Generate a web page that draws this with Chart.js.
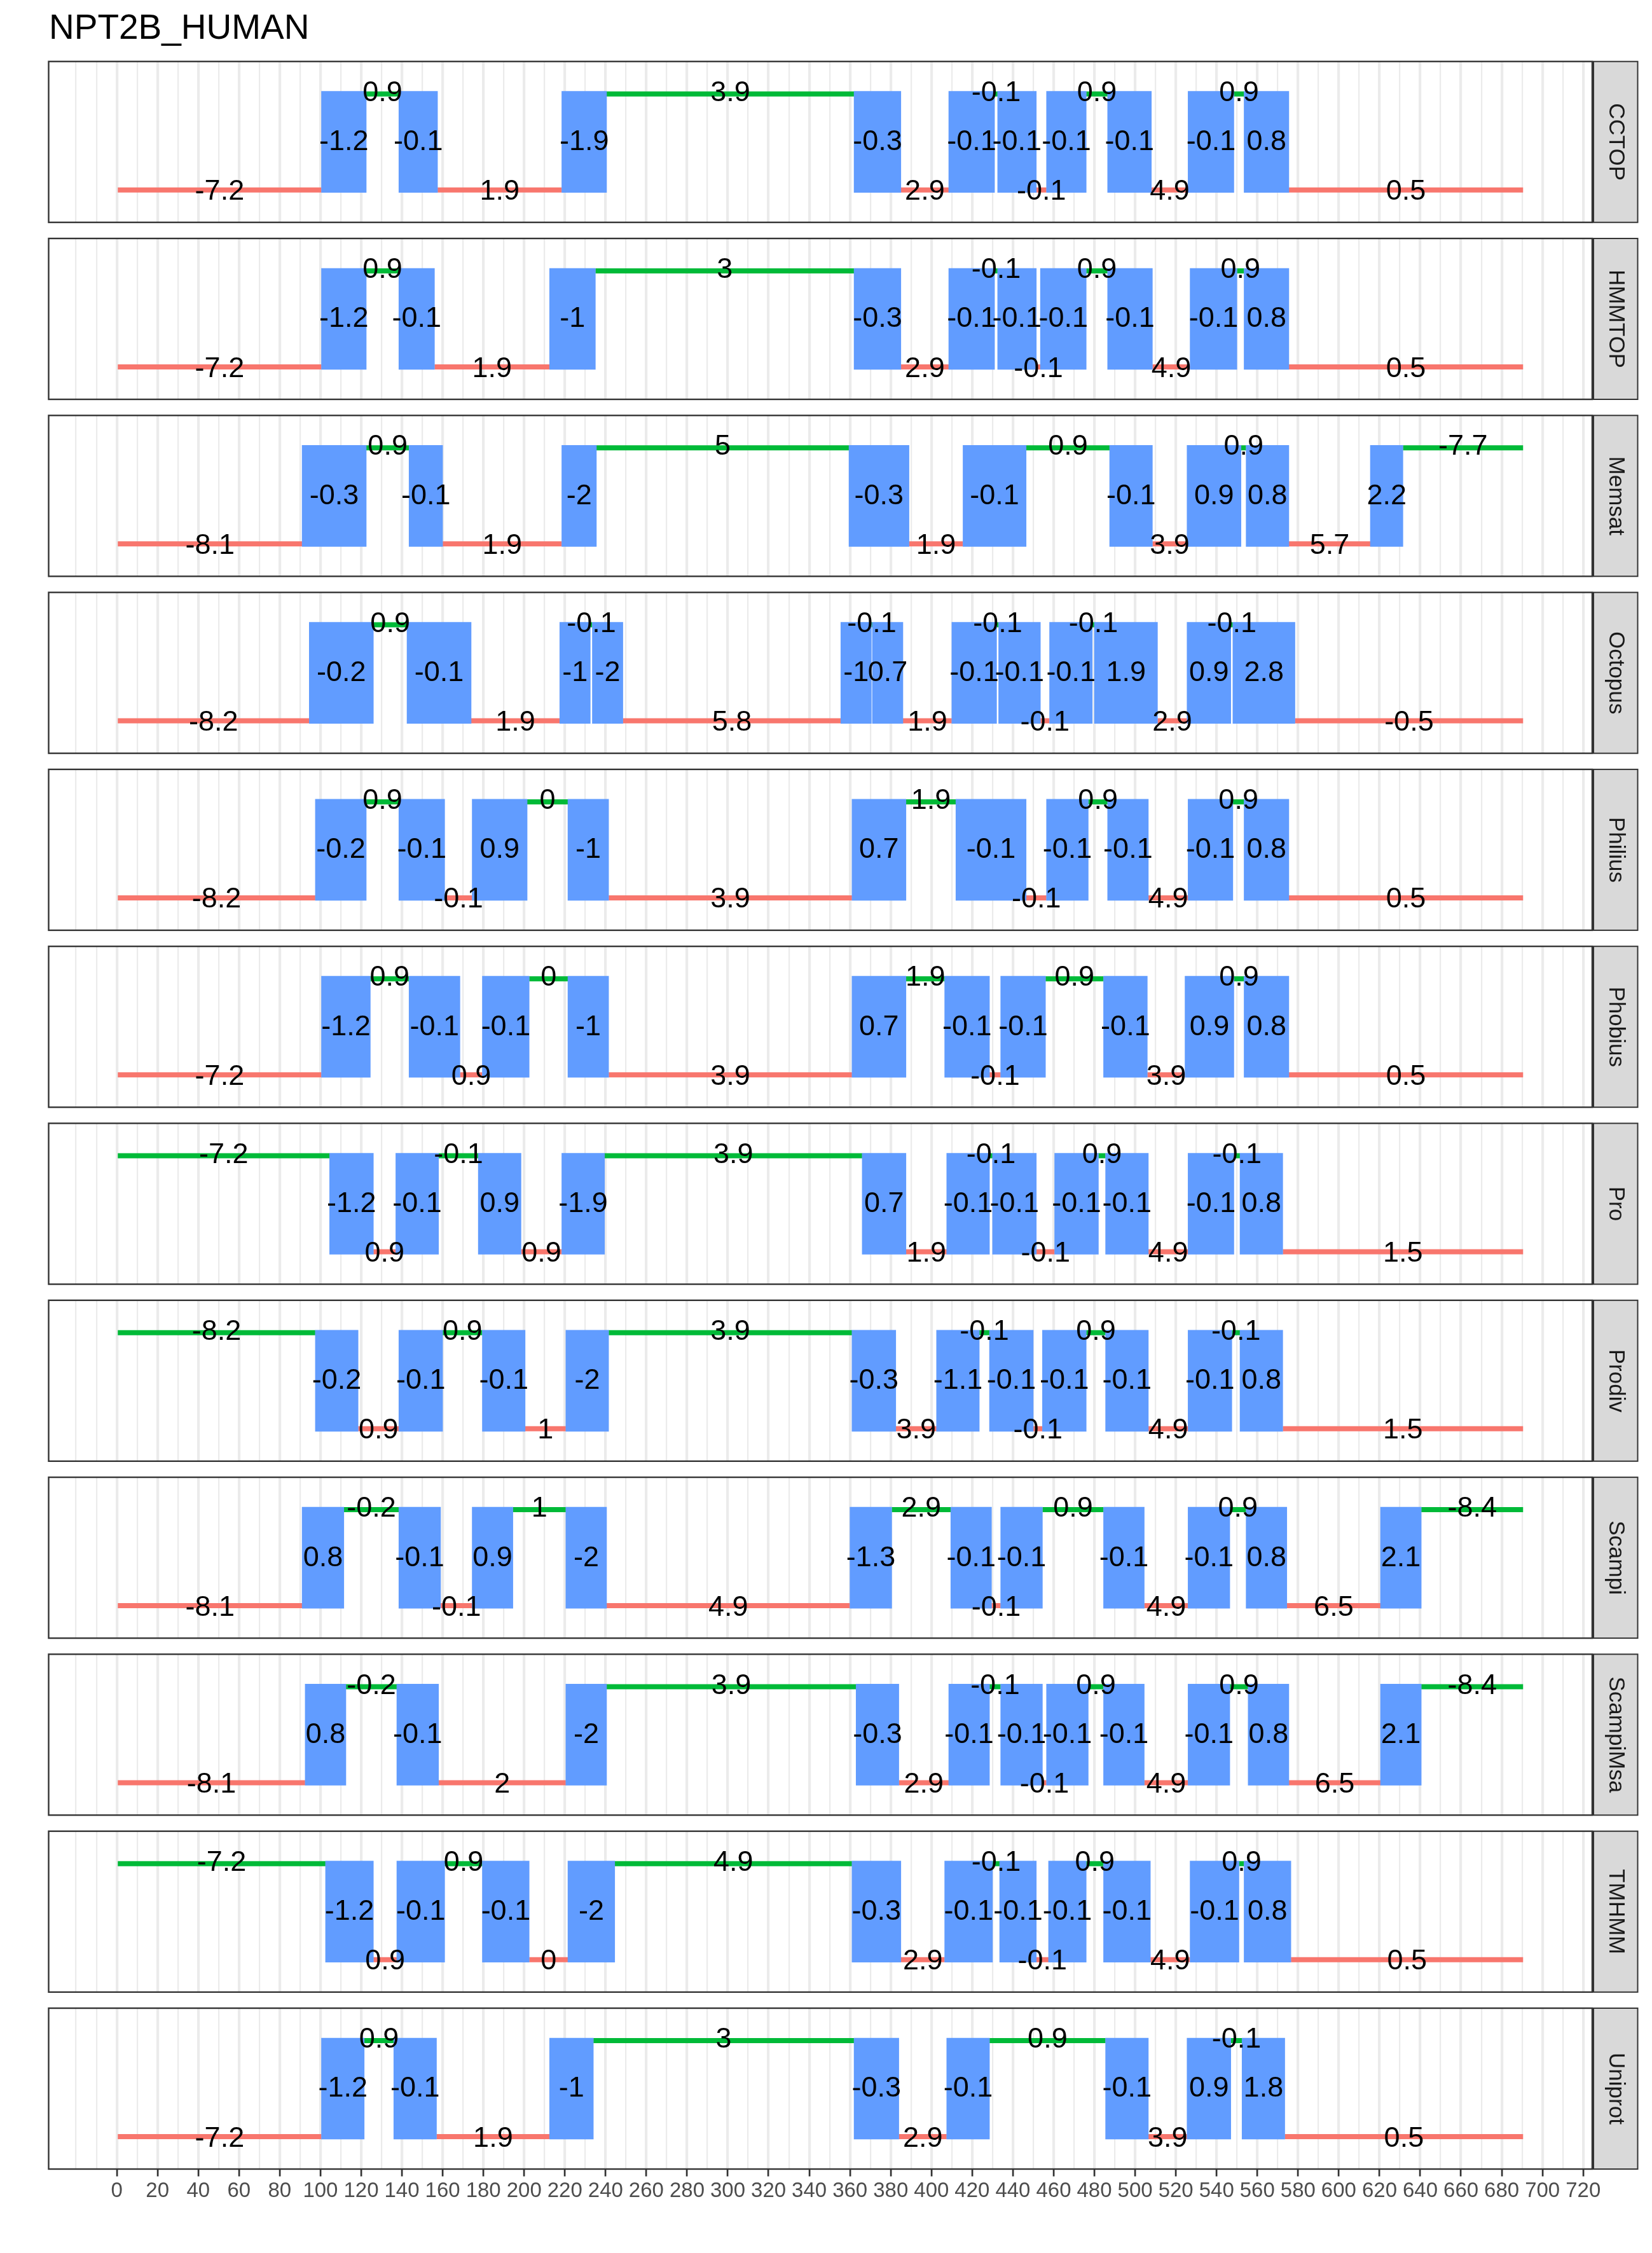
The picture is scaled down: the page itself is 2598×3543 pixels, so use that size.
<!DOCTYPE html>
<html>
<head>
<meta charset="utf-8">
<script src="https://cdn.jsdelivr.net/npm/chart.js@4/dist/chart.umd.min.js"></script>
<style>
html,body{margin:0;padding:0;background:#ffffff;}
body{width:2598px;height:3543px;position:relative;overflow:hidden;font-family:"Liberation Sans",Arial,sans-serif;}
#title{position:absolute;left:77px;top:15px;font-size:55px;line-height:55px;color:#000;white-space:nowrap;}
canvas{position:absolute;left:0;}
</style>
</head>
<body>
<div id="title">NPT2B_HUMAN</div>
<script>
// ---------- data (segment edges, topology i=inside o=outside M=membrane, score labels) ----------
const methods = ["CCTOP","HMMTOP","Memsat","Octopus","Philius","Phobius","Pro","Prodiv","Scampi","ScampiMsa","TMHMM","Uniprot"];

const cctopEdges = [0.5,100.5,122.5,138.5,157.5,218.5,240.5,362,385,408.5,431,432.5,451.5,456.5,476,486.5,508,526,548.5,553.5,575.5,690.5];
const cctopTopo  = "iMoMiMoMiMoMiMoMiMoMi";
const cctopScore = [-7.2,-1.2,0.9,-0.1,1.9,-1.9,3.9,-0.3,2.9,-0.1,-0.1,-0.1,-0.1,-0.1,0.9,-0.1,4.9,-0.1,0.9,0.8,0.5];

const hmmtopEdges = [0.5,100.5,122.5,138.5,156,212.5,235,362,385,408.5,431,432.5,451.5,453.5,476,486.5,508.5,527,550,553.5,575.5,690.5];
const hmmtopTopo  = "iMoMiMoMiMoMiMoMiMoMi";
const hmmtopScore = [-7.2,-1.2,0.9,-0.1,1.9,-1,3,-0.3,2.9,-0.1,-0.1,-0.1,-0.1,-0.1,0.9,-0.1,4.9,-0.1,0.9,0.8,0.5];

const memsatEdges = [0.5,91,122.5,143.5,160,218.5,235.5,359.5,389,415.5,446.5,487.5,508.5,525.5,552,554.5,575.5,615.5,631.5,690.5];
const memsatTopo  = "iMoMiMoMiMoMiMoMiMo";
const memsatScore = [-8.1,-0.3,0.9,-0.1,1.9,-2,5,-0.3,1.9,-0.1,0.9,-0.1,3.9,0.9,0.9,0.8,5.7,2.2,-7.7];

const octopusEdges = [0.5,94.5,126,142.5,174,217.5,232.5,233.5,248.5,355.5,370.5,371,386,410,432,433,453.5,458,479,480,511,525.5,547,548,578.5,690.5];
const octopusTopo  = "iMoMiMoMiMoMiMoMiMoMiMoMi";
const octopusScore = [-8.2,-0.2,0.9,-0.1,1.9,-1,-0.1,-2,5.8,-1,-0.1,0.7,1.9,-0.1,-0.1,-0.1,-0.1,-0.1,-0.1,1.9,2.9,0.9,-0.1,2.8,-0.5];

const philiusEdges = [0.5,97.5,122.5,138.5,161,174.5,201.5,221.5,241.5,361,387.5,412,446.5,456.5,477,486.5,506.5,526,548,553.5,575.5,690.5];
const philiusTopo  = "iMoMiMoMiMoMiMoMiMoMi";
const philiusScore = [-8.2,-0.2,0.9,-0.1,-0.1,0.9,0,-1,3.9,0.7,1.9,-0.1,-0.1,-0.1,0.9,-0.1,4.9,-0.1,0.9,0.8,0.5];

const phobiusEdges = [0.5,100.5,124.5,143.5,168.5,179.5,202.5,221.5,241.5,361,387.5,406.5,428.5,434,456,484.5,506,524.5,548.5,553.5,575.5,690.5];
const phobiusTopo  = "iMoMiMoMiMoMiMoMiMoMi";
const phobiusScore = [-7.2,-1.2,0.9,-0.1,0.9,-0.1,0,-1,3.9,0.7,1.9,-0.1,-0.1,-0.1,0.9,-0.1,3.9,0.9,0.9,0.8,0.5];

const proEdges = [0.5,104.5,126,137,158,177.5,198.5,218.5,239.5,366,387.5,407.5,428.5,430,451.5,460.5,482,485.5,506.5,526,548.5,551.5,572.5,690.5];
const proTopo  = "oMiMoMiMoMiMoMiMoMiMoMi";
const proScore = [-7.2,-1.2,0.9,-0.1,-0.1,0.9,0.9,-1.9,3.9,0.7,1.9,-0.1,-0.1,-0.1,-0.1,-0.1,0.9,-0.1,4.9,-0.1,-0.1,0.8,1.5];

const prodivEdges = [0.5,97.5,118.5,138.5,160,179.5,200.5,220.5,241.5,361,382.5,402.5,423.5,428.5,450,454.5,476,485.5,506.5,526,547.5,551.5,572.5,690.5];
const prodivTopo  = "oMiMoMiMoMiMoMiMoMiMoMi";
const prodivScore = [-8.2,-0.2,0.9,-0.1,0.9,-0.1,1,-2,3.9,-0.3,3.9,-1.1,-0.1,-0.1,-0.1,-0.1,0.9,-0.1,4.9,-0.1,-0.1,0.8,1.5];

const scampiEdges = [0.5,91,111.5,138.5,159,174.5,194.5,220.5,240.5,360,380.5,409.5,429.5,434,454.5,484.5,504.5,526,546.5,554.5,574.5,620.5,640.5,690.5];
const scampiTopo  = "iMoMiMoMiMoMiMoMiMoMiMo";
const scampiScore = [-8.1,0.8,-0.2,-0.1,-0.1,0.9,1,-2,4.9,-1.3,2.9,-0.1,-0.1,-0.1,0.9,-0.1,4.9,-0.1,0.9,0.8,6.5,2.1,-8.4];

const scampiMsaEdges = [0.5,92.5,112.5,137.5,158,220.5,240.5,363,384,408.5,428.5,434,454.5,456.5,477,484.5,504.5,526,546.5,555.5,575.5,620.5,640.5,690.5];
const scampiMsaTopo  = "iMoMiMoMiMoMiMoMiMoMiMo";
const scampiMsaScore = [-8.1,0.8,-0.2,-0.1,2,-2,3.9,-0.3,2.9,-0.1,-0.1,-0.1,-0.1,-0.1,0.9,-0.1,4.9,-0.1,0.9,0.8,6.5,2.1,-8.4];

const tmhmmEdges = [0.5,102.5,126,137.5,161,179.5,202.5,221.5,244.5,361,385,406.5,430,433.5,451.5,457.5,476,484.5,507.5,527,551,553.5,576.5,690.5];
const tmhmmTopo  = "oMiMoMiMoMiMoMiMoMiMoMi";
const tmhmmScore = [-7.2,-1.2,0.9,-0.1,0.9,-0.1,0,-2,4.9,-0.3,2.9,-0.1,-0.1,-0.1,-0.1,-0.1,0.9,-0.1,4.9,-0.1,0.9,0.8,0.5];

const uniprotEdges = [0.5,100.5,121.5,136,157,212.5,234,362,384,407.5,428.5,485.5,506.5,525.5,547,552.5,573.5,690.5];
const uniprotTopo  = "iMoMiMoMiMoMiMoMi";
const uniprotScore = [-7.2,-1.2,0.9,-0.1,1.9,-1,3,-0.3,2.9,-0.1,0.9,-0.1,3.9,0.9,-0.1,1.8,0.5];

const xBreaks = [0,20,40,60,80,100,120,140,160,180,200,220,240,260,280,300,320,340,360,380,400,420,440,460,480,500,520,540,560,580,600,620,640,660,680,700,720];

const panels = [
  [methods[0], cctopEdges, cctopTopo, cctopScore],
  [methods[1], hmmtopEdges, hmmtopTopo, hmmtopScore],
  [methods[2], memsatEdges, memsatTopo, memsatScore],
  [methods[3], octopusEdges, octopusTopo, octopusScore],
  [methods[4], philiusEdges, philiusTopo, philiusScore],
  [methods[5], phobiusEdges, phobiusTopo, phobiusScore],
  [methods[6], proEdges, proTopo, proScore],
  [methods[7], prodivEdges, prodivTopo, prodivScore],
  [methods[8], scampiEdges, scampiTopo, scampiScore],
  [methods[9], scampiMsaEdges, scampiMsaTopo, scampiMsaScore],
  [methods[10], tmhmmEdges, tmhmmTopo, tmhmmScore],
  [methods[11], uniprotEdges, uniprotTopo, uniprotScore]
];

// ---------- styling ----------
const FONT = '"Liberation Sans", Arial, sans-serif';
Chart.defaults.font.family = FONT;
const LEVEL = {i: 0, M: 1, o: 2};
const LABEL_LEVEL = {i: -0.042, M: 0.993, o: 2.016};
const COL = {i: '#F8766D', o: '#00BA38', M: '#619CFF'};
const X_MIN = -33.45, X_MAX = 724.45, Y_MIN = -0.6755, Y_MAX = 2.6755;
const TOP0 = 96.7, PITCH = 278.3, PANEL_H = 253;
const AREA_LEFT = 76.5, AREA_RIGHT = 2504, PAGE_W = 2598;
const AXIS_H = 90, PAD = 12;

const isMajor = v => v >= 0 && v <= 720 && xBreaks.includes(v);

const labelPlugin = {
  id: 'segLabels',
  afterDatasetsDraw(chart) {
    const ctx = chart.ctx;
    chart.data.datasets.forEach((ds, di) => {
      if (!ds.texts) return;
      const meta = chart.getDatasetMeta(di);
      ctx.save();
      ctx.font = '45px ' + FONT;
      ctx.fillStyle = '#000000';
      ctx.textAlign = 'center';
      ctx.textBaseline = 'middle';
      meta.data.forEach((pt, k) => ctx.fillText(ds.texts[k], pt.x, pt.y));
      ctx.restore();
    });
  }
};

const facetPlugin = {
  id: 'facet',
  afterDraw(chart, args, opts) {
    const ctx = chart.ctx, a = chart.chartArea;
    const h = a.bottom - a.top;
    ctx.save();
    const sx = a.right + 2, sw = 69.5;
    ctx.fillStyle = '#D9D9D9';
    ctx.fillRect(sx, a.top, sw, h);
    ctx.strokeStyle = '#333333';
    ctx.lineWidth = 2;
    ctx.strokeRect(sx, a.top, sw, h);
    ctx.translate(sx + sw / 2, a.top + h / 2);
    ctx.rotate(Math.PI / 2);
    ctx.font = '35px ' + FONT;
    ctx.fillStyle = '#1A1A1A';
    ctx.textAlign = 'center';
    ctx.textBaseline = 'middle';
    ctx.fillText(opts.name, 0, 0);
    ctx.restore();
    ctx.save();
    ctx.strokeStyle = '#333333';
    ctx.lineWidth = 2.4;
    ctx.strokeRect(a.left, a.top, a.right - a.left, h);
    ctx.restore();
  }
};

function buildLine(edges, topo, t) {
  const pts = [];
  for (let k = 0; k < topo.length; k++) {
    if (topo[k] !== t) continue;
    pts.push({x: edges[k], y: LEVEL[t]}, {x: edges[k + 1], y: LEVEL[t]}, {x: edges[k + 1], y: null});
  }
  return pts;
}
function buildBars(edges, topo) {
  const out = [];
  for (let k = 0; k < topo.length; k++) if (topo[k] === 'M') out.push({x: [edges[k], edges[k + 1]], y: LEVEL.M});
  return out;
}
function buildLabels(edges, topo, score) {
  const pts = [], txt = [];
  for (let k = 0; k < topo.length; k++) {
    pts.push({x: (edges[k] + edges[k + 1]) / 2, y: LABEL_LEVEL[topo[k]]});
    txt.push(String(score[k]));
  }
  return {pts, txt};
}

panels.forEach((p, idx) => {
  const [name, edges, topo, score] = p;
  const last = idx === panels.length - 1;
  const top = TOP0 + idx * PITCH;
  const cTop = Math.round(top) - PAD;
  const padTop = top - cTop;
  const cH = last ? Math.ceil(padTop + PANEL_H + AXIS_H) : Math.ceil(padTop + PANEL_H + PAD);
  const padBottom = last ? 0 : cH - padTop - PANEL_H;

  const cv = document.createElement('canvas');
  cv.width = PAGE_W; cv.height = cH;
  cv.style.top = cTop + 'px';
  cv.style.width = PAGE_W + 'px'; cv.style.height = cH + 'px';
  document.body.appendChild(cv);

  const lab = buildLabels(edges, topo, score);

  new Chart(cv.getContext('2d'), {
    type: 'line',
    data: {
      datasets: [
        {type: 'bar', indexAxis: 'y', data: buildBars(edges, topo), backgroundColor: COL.M,
         borderWidth: 0, barThickness: 159, order: 0},
        {type: 'line', data: buildLine(edges, topo, 'i'), borderColor: COL.i, borderWidth: 8,
         borderCapStyle: 'butt', pointRadius: 0, spanGaps: false, fill: false, tension: 0, order: 1},
        {type: 'line', data: buildLine(edges, topo, 'o'), borderColor: COL.o, borderWidth: 8,
         borderCapStyle: 'butt', pointRadius: 0, spanGaps: false, fill: false, tension: 0, order: 1},
        {type: 'scatter', data: lab.pts, texts: lab.txt, pointRadius: 0, pointHoverRadius: 0,
         showLine: false, order: -1}
      ]
    },
    options: {
      responsive: false,
      maintainAspectRatio: false,
      devicePixelRatio: 1,
      animation: false,
      events: [],
      layout: {padding: {left: AREA_LEFT, right: PAGE_W - AREA_RIGHT, top: padTop, bottom: padBottom}},
      plugins: {legend: {display: false}, tooltip: {enabled: false}, facet: {name: name}},
      scales: {
        x: {
          type: 'linear', min: X_MIN, max: X_MAX, offset: false,
          border: {display: false},
          grid: {
            drawOnChartArea: true,
            drawTicks: last,
            tickLength: 11.5,
            color: c => (c.tick && c.tick.value >= -25) ? '#EBEBEB' : 'rgba(0,0,0,0)',
            lineWidth: c => (c.tick && isMajor(c.tick.value)) ? 4.2 : 2.2,
            tickColor: c => (c.tick && isMajor(c.tick.value)) ? '#333333' : 'rgba(0,0,0,0)',
            tickWidth: 2.7
          },
          ticks: {
            display: last,
            stepSize: 10,
            includeBounds: false,
            autoSkip: false,
            maxRotation: 0, minRotation: 0,
            padding: 4,
            color: '#4D4D4D',
            font: {size: 33, family: FONT},
            callback: v => isMajor(v) ? String(v) : ''
          },
          afterFit: s => { s.height = last ? AXIS_H : 0; }
        },
        y: {type: 'linear', display: false, min: Y_MIN, max: Y_MAX, offset: false}
      }
    },
    plugins: [labelPlugin, facetPlugin]
  });
});
</script>
</body>
</html>
